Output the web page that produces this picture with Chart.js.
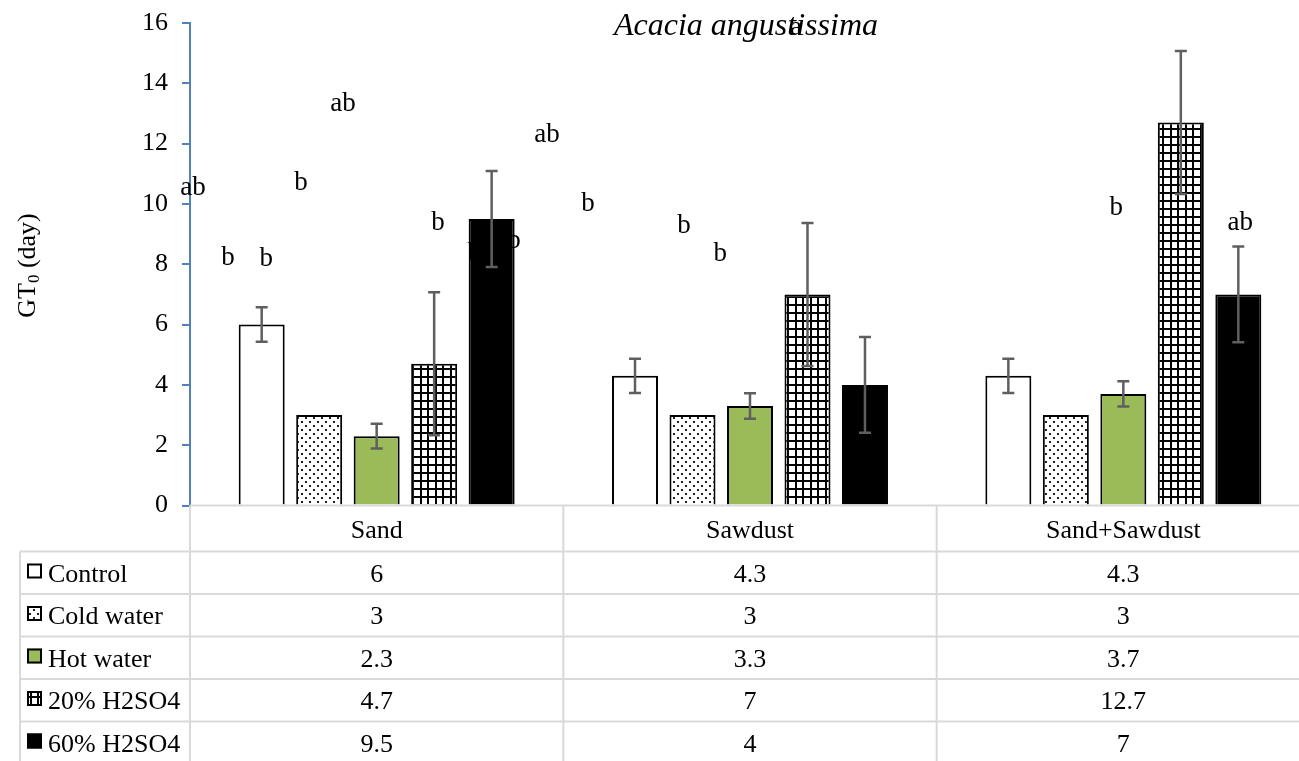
<!DOCTYPE html>
<html>
<head>
<meta charset="utf-8">
<script src="https://cdn.jsdelivr.net/npm/chart.js@4.4.1/dist/chart.umd.min.js"></script>
<style>
  html, body { margin: 0; padding: 0; background: #fff; overflow: hidden; }
  #wrap { width: 1320px; height: 761px; position: relative; }
</style>
</head>
<body>
<div id="wrap"><canvas id="c" width="1320" height="761"></canvas></div>
<script>
// Germination time (GT0, days) of Acacia angustissima by substrate and seed pre-treatment
const categories = ['Sand', 'Sawdust', 'Sand+Sawdust'];
const seriesNames = ['Control', 'Cold water', 'Hot water', '20% H2SO4', '60% H2SO4'];

const controlValues   = [6, 4.3, 4.3];
const coldWaterValues = [3, 3, 3];
const hotWaterValues  = [2.3, 3.3, 3.7];
const acid20Values    = [4.7, 7, 12.7];
const acid60Values    = [9.5, 4, 7];

// standard errors
const controlErrors   = [0.57, 0.57, 0.57];
const coldWaterErrors = [0, 0, 0];
const hotWaterErrors  = [0.41, 0.42, 0.42];
const acid20Errors    = [2.37, 2.37, 2.37];
const acid60Errors    = [1.59, 1.59, 1.59];

const yTicks = [0, 2, 4, 6, 8, 10, 12, 14, 16];

// significance letters, anchored in (category index, value) space
const letterText = ['ab', 'b', 'b', 'b', 'ab', 'b', 'b', 'b', 'ab', 'b', 'b', 'b', 'a', 'b', 'ab'];
const letterCat  = [-0.492, -0.398, -0.296, -0.203, -0.090, 0.164, 0.262, 0.368, 0.456, 0.566, 0.823, 0.920, 1.123, 1.981, 2.313];
const letterVal  = [10.30, 7.97, 7.94, 10.46, 13.08, 9.13, 8.11, 8.54, 12.05, 9.76, 9.03, 8.11, 15.60, 9.63, 9.13];

const chartTitle = 'Acacia angustissima';

const seriesValues = [controlValues, coldWaterValues, hotWaterValues, acid20Values, acid60Values];
const seriesErrors = [controlErrors, coldWaterErrors, hotWaterErrors, acid20Errors, acid60Errors];

const SERIF = '"Liberation Serif", "Times New Roman", serif';
const canvas = document.getElementById('c');
const mainCtx = canvas.getContext('2d');

function makePattern(w, h, draw) {
  const c = document.createElement('canvas');
  c.width = w; c.height = h;
  const g = c.getContext('2d');
  g.fillStyle = '#ffffff';
  g.fillRect(0, 0, w, h);
  draw(g);
  return mainCtx.createPattern(c, 'repeat');
}

const dotFill = makePattern(8, 8, g => {
  g.fillStyle = '#1e1e1e';
  g.fillRect(1, 1, 2, 2);
  g.fillRect(5, 5, 2, 2);
});
const gridFill = makePattern(15, 16, g => {
  g.fillStyle = '#000000';
  g.fillRect(0, 0, 2, 16);
  g.fillRect(7, 0, 2, 16);
  g.fillRect(0, 0, 15, 2);
  g.fillRect(0, 8, 15, 2);
});
const fills = ['#ffffff', dotFill, '#9BBB59', gridFill, '#000000'];

const datasets = seriesNames.map((name, i) => ({
  label: name,
  data: seriesValues[i],
  backgroundColor: fills[i],
  borderColor: '#000000',
  borderWidth: 2,
  categoryPercentage: 0.77,
  barPercentage: 0.80
}));

// letters sit behind the bars
const lettersPlugin = {
  id: 'letters',
  beforeDatasetsDraw(chart) {
    const ctx = chart.ctx, xs = chart.scales.x, ys = chart.scales.y;
    const x0 = xs.getPixelForValue(0), step = xs.getPixelForValue(1) - x0;
    ctx.save();
    ctx.fillStyle = '#000';
    ctx.font = '27px ' + SERIF;
    ctx.textAlign = 'center';
    ctx.textBaseline = 'alphabetic';
    letterText.forEach((t, k) => {
      ctx.fillText(t, x0 + letterCat[k] * step, ys.getPixelForValue(letterVal[k]));
    });
    ctx.restore();
  }
};

const errorBarsPlugin = {
  id: 'errorBars',
  afterDatasetsDraw(chart) {
    const ctx = chart.ctx, ys = chart.scales.y;
    ctx.save();
    ctx.strokeStyle = '#5f5f5f';
    ctx.lineWidth = 2.5;
    chart.data.datasets.forEach((ds, i) => {
      chart.getDatasetMeta(i).data.forEach((bar, j) => {
        const e = seriesErrors[i][j];
        if (!e) return;
        const v = ds.data[j];
        const yt = ys.getPixelForValue(v + e), yb = ys.getPixelForValue(v - e);
        const x = bar.x, cap = 6;
        ctx.beginPath();
        ctx.moveTo(x, yt); ctx.lineTo(x, yb);
        ctx.moveTo(x - cap, yt); ctx.lineTo(x + cap, yt);
        ctx.moveTo(x - cap, yb); ctx.lineTo(x + cap, yb);
        ctx.stroke();
      });
    });
    ctx.restore();
  }
};

// data table under the plot, title and y-axis caption
const tablePlugin = {
  id: 'dataTable',
  afterDraw(chart) {
    const ctx = chart.ctx, area = chart.chartArea;
    const colW = (area.right - area.left) / categories.length;
    const top = area.bottom;
    const headerH = 46, rowH = 42.5;
    const keyLeft = 20;
    const bottom = chart.height;

    ctx.save();
    ctx.strokeStyle = '#d9d9d9';
    ctx.lineWidth = 2;
    ctx.beginPath();
    ctx.moveTo(area.left, top); ctx.lineTo(chart.width, top);
    for (let r = 0; r <= seriesNames.length; r++) {
      const y = top + headerH + r * rowH;
      ctx.moveTo(keyLeft, y); ctx.lineTo(chart.width, y);
    }
    for (let c = 0; c <= categories.length; c++) {
      const x = area.left + c * colW;
      ctx.moveTo(x, top); ctx.lineTo(x, bottom);
    }
    ctx.moveTo(keyLeft, top + headerH); ctx.lineTo(keyLeft, bottom);
    ctx.stroke();

    ctx.fillStyle = '#000';
    ctx.font = '26px ' + SERIF;
    ctx.textBaseline = 'alphabetic';
    ctx.textAlign = 'center';
    categories.forEach((cat, c) => {
      ctx.fillText(cat, area.left + (c + 0.5) * colW, top + 32.5);
    });
    seriesNames.forEach((name, r) => {
      const rowTop = top + headerH + r * rowH;
      ctx.textAlign = 'center';
      seriesValues[r].forEach((v, c) => {
        ctx.fillText(String(v), area.left + (c + 0.5) * colW, rowTop + 30);
      });
      // legend key
      ctx.fillStyle = fills[r];
      ctx.fillRect(27, rowTop + 12, 15, 15);
      ctx.strokeStyle = '#000';
      ctx.lineWidth = 2;
      ctx.strokeRect(28, rowTop + 13, 13, 13);
      ctx.fillStyle = '#000';
      ctx.textAlign = 'left';
      ctx.fillText(name, 48, rowTop + 30);
    });

    // chart title
    ctx.font = 'italic 32px ' + SERIF;
    ctx.textAlign = 'center';
    ctx.fillText(chartTitle, (area.left + area.right) / 2 - 4, 35);

    // y-axis caption: GT0 (day) with subscript
    ctx.translate(35, 265.5);
    ctx.rotate(-Math.PI / 2);
    ctx.textAlign = 'left';
    const big = '26px ' + SERIF, small = '17px ' + SERIF;
    ctx.font = big; const w1 = ctx.measureText('GT').width;
    ctx.font = small; const w2 = ctx.measureText('0').width;
    ctx.font = big; const w3 = ctx.measureText(' (day)').width;
    let x = -(w1 + w2 + w3) / 2;
    ctx.font = big; ctx.fillText('GT', x, 0); x += w1;
    ctx.font = small; ctx.fillText('0', x, 4); x += w2;
    ctx.font = big; ctx.fillText(' (day)', x, 0);
    ctx.restore();
  }
};

new Chart(canvas, {
  type: 'bar',
  data: { labels: categories, datasets },
  plugins: [lettersPlugin, errorBarsPlugin, tablePlugin],
  options: {
    responsive: false,
    animation: false,
    devicePixelRatio: 1,
    layout: { padding: { top: 23, left: 0, right: 10, bottom: 255.5 } },
    plugins: {
      legend: { display: false },
      title: { display: false },
      tooltip: { enabled: false }
    },
    scales: {
      x: { display: false, offset: true },
      y: {
        min: 0,
        max: 16,
        afterBuildTicks: s => { s.ticks = yTicks.map(v => ({ value: v })); },
        afterFit: s => { s.width = 190; s.paddingTop = 0; s.paddingBottom = 0; },
        ticks: {
          color: '#000',
          padding: 14,
          font: { family: SERIF, size: 26 }
        },
        grid: {
          display: true,
          drawOnChartArea: false,
          drawTicks: true,
          tickLength: 8,
          color: '#4F81BD',
          lineWidth: 2
        },
        border: { display: true, color: '#4F81BD', width: 2 }
      }
    }
  }
});
</script>
</body>
</html>
